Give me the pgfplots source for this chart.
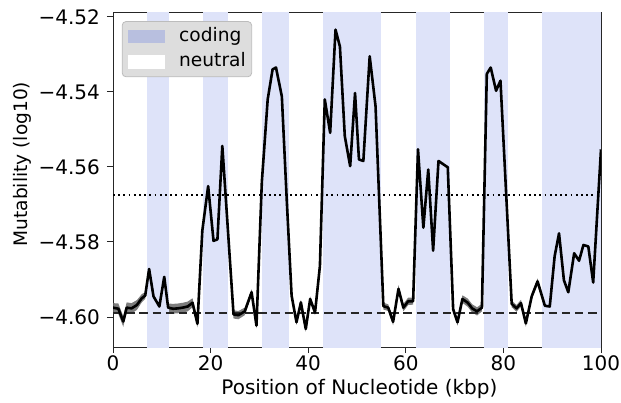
\documentclass[border=0pt]{standalone}
\usepackage{fontspec}
\setmainfont{DejaVu Sans}
\usepackage{pgfplots}
\pgfplotsset{compat=1.18}
\usepgfplotslibrary{fillbetween}
\usepackage{pgfplotstable}

\definecolor{codingcol}{RGB}{222,227,249}
\definecolor{codingleg}{RGB}{184,191,223}
\definecolor{legbg}{RGB}{221,221,221}

% position (kbp), mean mutability (log10), half width of shaded band
\pgfplotstableread{
x y e
0 -4.5975 0.0012
1.1 -4.5978 0.0014
2.1 -4.6012 0.0014
2.8 -4.5975 0.0014
3.8 -4.5977 0.0014
4.9 -4.5968 0.0013
5.9 -4.5950 0.0011
6.6 -4.5943 0.0009
7.4 -4.5872 0.0008
8.3 -4.5945 0.0008
9.5 -4.5972 0.0009
10.5 -4.5893 0.0008
11.3 -4.5975 0.0011
12.3 -4.5978 0.0013
13.3 -4.5977 0.0013
14.3 -4.5975 0.0013
15.3 -4.5972 0.0013
16.3 -4.5962 0.0012
17.3 -4.6018 0.0010
18.3 -4.5770 0.0007
19.5 -4.5651 0.0007
20.6 -4.5797 0.0007
21.4 -4.5793 0.0007
22.4 -4.5544 0.0006
24.7 -4.5993 0.0011
25.7 -4.5995 0.0011
27.0 -4.5985 0.0010
28.4 -4.5934 0.0008
29.4 -4.6023 0.0008
30.5 -4.5640 0.0006
31.7 -4.5420 0.0006
32.7 -4.5340 0.0007
33.4 -4.5335 0.0007
34.6 -4.5412 0.0006
35.6 -4.5687 0.0006
36.6 -4.5943 0.0007
37.6 -4.6014 0.0007
38.5 -4.5961 0.0007
39.5 -4.6032 0.0007
40.4 -4.5952 0.0007
41.4 -4.5988 0.0007
42.4 -4.5864 0.0006
43.4 -4.5420 0.0006
44.5 -4.5509 0.0006
45.6 -4.5234 0.0006
46.5 -4.5279 0.0006
47.5 -4.5518 0.0006
48.6 -4.5598 0.0007
49.6 -4.5403 0.0006
50.4 -4.5580 0.0007
51.3 -4.5584 0.0007
52.6 -4.5305 0.0006
53.8 -4.5438 0.0006
55.4 -4.5971 0.0009
56.4 -4.5975 0.0009
57.4 -4.6013 0.0009
58.5 -4.5925 0.0010
59.5 -4.5975 0.0010
60.5 -4.5958 0.0010
61.5 -4.5958 0.0009
62.5 -4.5553 0.0006
63.6 -4.5762 0.0006
64.6 -4.5607 0.0006
65.6 -4.5823 0.0006
66.7 -4.5584 0.0007
67.7 -4.5593 0.0007
68.6 -4.5601 0.0007
69.7 -4.5979 0.0009
70.6 -4.6014 0.0009
71.6 -4.5952 0.0010
72.7 -4.5962 0.0011
73.6 -4.5977 0.0011
74.6 -4.5985 0.0011
75.6 -4.5975 0.0010
76.6 -4.5352 0.0007
77.4 -4.5335 0.0007
78.5 -4.5397 0.0007
79.4 -4.5370 0.0007
81.7 -4.5965 0.0009
82.7 -4.5977 0.0009
83.6 -4.5963 0.0009
84.6 -4.6017 0.0009
85.8 -4.5945 0.0008
87.0 -4.5905 0.0008
88.5 -4.5970 0.0008
89.5 -4.5972 0.0008
90.5 -4.5838 0.0008
91.4 -4.5777 0.0008
92.4 -4.5902 0.0007
93.3 -4.5934 0.0007
94.5 -4.5830 0.0007
95.5 -4.5850 0.0008
96.4 -4.5808 0.0008
97.4 -4.5812 0.0008
98.4 -4.5908 0.0008
100 -4.5553 0.0008
}\mut

\begin{document}
\begin{tikzpicture}[font=\fontsize{10}{12}\selectfont]
\begin{axis}[
  scale only axis, width=244pt, height=167.5pt,
  xmin=0, xmax=100, ymin=-4.608, ymax=-4.5187,
  xtick={0,20,40,60,80,100},
  ytick={-4.60,-4.58,-4.56,-4.54,-4.52},
  yticklabels={−4.60,−4.58,−4.56,−4.54,−4.52},
  /pgf/number format/assume math mode=true,
  tick pos=left, tick align=outside,
  major tick length=3pt,
  axis line style={black!85, line width=0.5pt},
  every tick/.style={black!85, line width=0.5pt},
  tick label style={font=\fontsize{10}{12}\selectfont},
  xticklabel style={inner sep=1pt},
  xlabel={Position of Nucleotide (kbp)},
  ylabel={Mutability (log10)},
  every axis x label/.style={at={(rel axis cs:0.505,0)}, anchor=center, yshift=-21pt},
  every axis y label/.style={at={(rel axis cs:0,0.546)}, anchor=center, rotate=90, yshift=45.5pt,
    font=\fontsize{9.3}{11}\selectfont},
  legend style={at={(0.018,0.973)}, anchor=north west, fill=legbg, draw=legbg!85!black,
    rounded corners=2pt, inner xsep=3pt, inner ysep=3pt,
    row sep=3.7pt, column sep=7pt,
    nodes={inner sep=0pt, text height=7pt, text depth=2pt},
    font=\fontsize{9.3}{11}\selectfont},
  legend cell align=left,
  legend image code/.code={\fill[#1, draw=none, sharp corners] (0pt,-3.35pt) rectangle (18.5pt,3.35pt);},
]
\addlegendimage{fill=codingleg}
\addlegendentry{coding}
\addlegendimage{fill=white}
\addlegendentry{neutral}

% coding regions
\addplot[fill=codingcol, draw=none, forget plot] coordinates {(7,-4.7)(11.5,-4.7)(11.5,-4.4)(7,-4.4)};
\addplot[fill=codingcol, draw=none, forget plot] coordinates {(18.5,-4.7)(23.5,-4.7)(23.5,-4.4)(18.5,-4.4)};
\addplot[fill=codingcol, draw=none, forget plot] coordinates {(30.5,-4.7)(36,-4.7)(36,-4.4)(30.5,-4.4)};
\addplot[fill=codingcol, draw=none, forget plot] coordinates {(43,-4.7)(55,-4.7)(55,-4.4)(43,-4.4)};
\addplot[fill=codingcol, draw=none, forget plot] coordinates {(62,-4.7)(69,-4.7)(69,-4.4)(62,-4.4)};
\addplot[fill=codingcol, draw=none, forget plot] coordinates {(76,-4.7)(81,-4.7)(81,-4.4)(76,-4.4)};
\addplot[fill=codingcol, draw=none, forget plot] coordinates {(88,-4.7)(100,-4.7)(100,-4.4)(88,-4.4)};

% shaded band around the mean
\addplot[name path=up, draw=none, forget plot] table[x=x, y expr=\thisrow{y}+\thisrow{e}] {\mut};
\addplot[name path=lo, draw=none, forget plot] table[x=x, y expr=\thisrow{y}-\thisrow{e}] {\mut};
\addplot[fill=black!60, fill opacity=0.85, draw=none, forget plot] fill between[of=up and lo];

% reference levels
\addplot[black, line width=0.9pt, dash pattern=on 0.9pt off 1.7pt, forget plot] coordinates {(0,-4.5675)(100,-4.5675)};
\addplot[black!85, line width=1.1pt, dash pattern=on 4.2pt off 2.4pt, forget plot] coordinates {(0,-4.5989)(100,-4.5989)};

% mean
\addplot[black, line width=1.3pt, line join=round, forget plot] table[x=x, y=y] {\mut};
\end{axis}
\pgfresetboundingbox
\path (current axis.south west) ++(-56.5pt,-27.5pt);
\path (current axis.north east) ++(10pt,6pt);
\end{tikzpicture}
\end{document}
